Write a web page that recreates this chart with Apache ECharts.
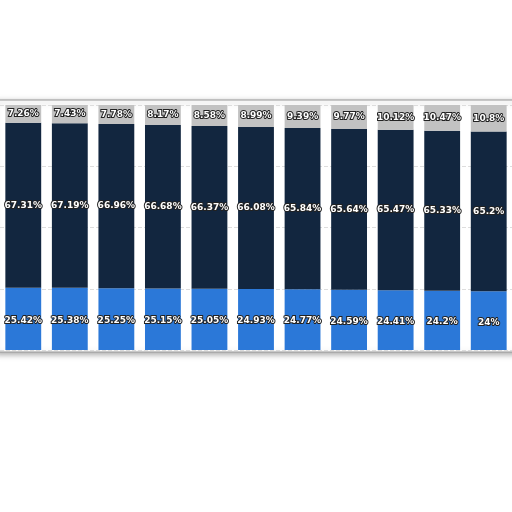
<!DOCTYPE html><html><head><meta charset="utf-8"><script src="https://cdn.jsdelivr.net/npm/echarts@6/dist/echarts.min.js"></script></head><body style="margin:0;background:#fff;overflow:hidden"><div id="c" style="width:512px;height:512px"></div><script>
var categories=['1','2','3','4','5','6','7','8','9','10','11'];
var bottomVals=[25.42,25.38,25.25,25.15,25.05,24.93,24.77,24.59,24.41,24.2,24.0];
var midVals=[67.31,67.19,66.96,66.68,66.37,66.08,65.84,65.64,65.47,65.33,65.2];
var topVals=[7.26,7.43,7.78,8.17,8.58,8.99,9.39,9.77,10.12,10.47,10.8];
var lbl={show:true,position:'inside',color:'#fff',fontSize:9,fontWeight:'bold',fontFamily:'DejaVu Sans',textBorderColor:'#222',textBorderWidth:2,formatter:function(p){return p.value+'%';}};
var chart=echarts.init(document.getElementById('c'));
chart.setOption({animation:false,
graphic:[{type:'rect',shape:{x:-5,y:100,width:530,height:252},style:{fill:'#fff',stroke:'#999',lineWidth:1,shadowBlur:6,shadowColor:'rgba(0,0,0,0.35)',shadowOffsetY:2},z:-10}],
grid:{left:-15,top:105,right:-45,bottom:162},
xAxis:{type:'category',data:categories,show:false},
yAxis:{type:'value',min:0,max:100,interval:25,axisLabel:{show:false},axisLine:{show:false},axisTick:{show:false},splitLine:{show:true,lineStyle:{color:'#ddd',type:'dashed'}}},
series:[
{type:'bar',stack:'a',data:bottomVals,barCategoryGap:'23%',itemStyle:{color:'#2b78d8'},label:Object.assign({},lbl,{position:['50%','45%'],align:'center'})},
{type:'bar',stack:'a',data:midVals,itemStyle:{color:'#12263f'},label:lbl},
{type:'bar',stack:'a',data:topVals,itemStyle:{color:'#c2c2c2'},label:lbl}
]});
</script></body></html>
